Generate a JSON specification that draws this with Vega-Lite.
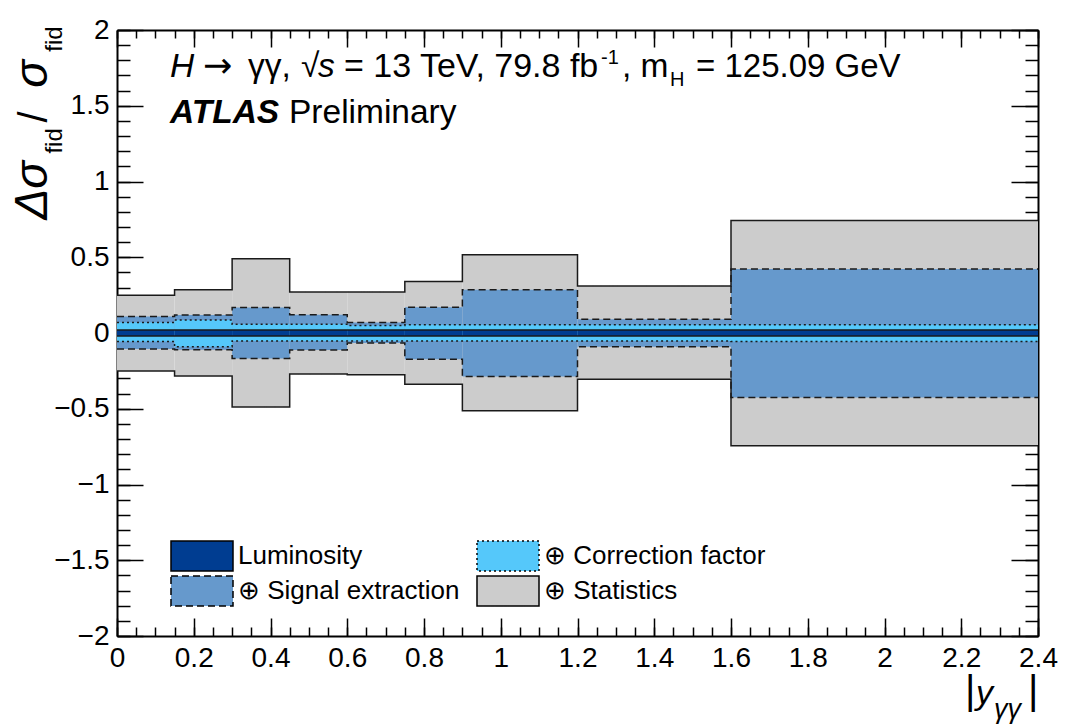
{
  "$schema": "https://vega.github.io/schema/vega-lite/v6.json",
  "width": 921,
  "height": 606,
  "autosize": {"type": "none"},
  "padding": {"left": 117, "top": 30, "right": 28, "bottom": 90},
  "background": "white",
  "config": {
    "view": {"stroke": null},
    "axis": {
      "grid": false,
      "domain": false,
      "tickColor": "black",
      "tickWidth": 1.5,
      "domainColor": "black",
      "domainWidth": 2,
      "labelFont": "Liberation Sans",
      "labelFontSize": 28,
      "labelColor": "black",
      "zindex": 1
    },
    "text": {"font": "Liberation Sans", "color": "black"}
  },
  "datasets": {
    "bands": [
      {"comp": "⊕ Statistics", "x0": 0, "x1": 0.15, "lo": -0.25, "hi": 0.25},
      {"comp": "⊕ Statistics", "x0": 0.15, "x1": 0.3, "lo": -0.283, "hi": 0.285},
      {"comp": "⊕ Statistics", "x0": 0.3, "x1": 0.45, "lo": -0.488, "hi": 0.49},
      {"comp": "⊕ Statistics", "x0": 0.45, "x1": 0.6, "lo": -0.27, "hi": 0.27},
      {"comp": "⊕ Statistics", "x0": 0.6, "x1": 0.75, "lo": -0.275, "hi": 0.27},
      {"comp": "⊕ Statistics", "x0": 0.75, "x1": 0.9, "lo": -0.338, "hi": 0.34},
      {"comp": "⊕ Statistics", "x0": 0.9, "x1": 1.2, "lo": -0.513, "hi": 0.516},
      {"comp": "⊕ Statistics", "x0": 1.2, "x1": 1.6, "lo": -0.305, "hi": 0.311},
      {"comp": "⊕ Statistics", "x0": 1.6, "x1": 2.4, "lo": -0.744, "hi": 0.742},
      {"comp": "⊕ Signal extraction", "x0": 0, "x1": 0.15, "lo": -0.106, "hi": 0.109},
      {"comp": "⊕ Signal extraction", "x0": 0.15, "x1": 0.3, "lo": -0.111, "hi": 0.118},
      {"comp": "⊕ Signal extraction", "x0": 0.3, "x1": 0.45, "lo": -0.168, "hi": 0.168},
      {"comp": "⊕ Signal extraction", "x0": 0.45, "x1": 0.6, "lo": -0.113, "hi": 0.12},
      {"comp": "⊕ Signal extraction", "x0": 0.6, "x1": 0.75, "lo": -0.066, "hi": 0.07},
      {"comp": "⊕ Signal extraction", "x0": 0.75, "x1": 0.9, "lo": -0.173, "hi": 0.17},
      {"comp": "⊕ Signal extraction", "x0": 0.9, "x1": 1.2, "lo": -0.287, "hi": 0.285},
      {"comp": "⊕ Signal extraction", "x0": 1.2, "x1": 1.6, "lo": -0.091, "hi": 0.091},
      {"comp": "⊕ Signal extraction", "x0": 1.6, "x1": 2.4, "lo": -0.425, "hi": 0.423},
      {"comp": "⊕ Correction factor", "x0": 0, "x1": 0.15, "lo": -0.056, "hi": 0.07},
      {"comp": "⊕ Correction factor", "x0": 0.15, "x1": 0.3, "lo": -0.09, "hi": 0.085},
      {"comp": "⊕ Correction factor", "x0": 0.3, "x1": 0.45, "lo": -0.052, "hi": 0.058},
      {"comp": "⊕ Correction factor", "x0": 0.45, "x1": 0.6, "lo": -0.052, "hi": 0.058},
      {"comp": "⊕ Correction factor", "x0": 0.6, "x1": 0.75, "lo": -0.052, "hi": 0.05},
      {"comp": "⊕ Correction factor", "x0": 0.75, "x1": 0.9, "lo": -0.052, "hi": 0.054},
      {"comp": "⊕ Correction factor", "x0": 0.9, "x1": 1.2, "lo": -0.052, "hi": 0.054},
      {"comp": "⊕ Correction factor", "x0": 1.2, "x1": 1.6, "lo": -0.052, "hi": 0.054},
      {"comp": "⊕ Correction factor", "x0": 1.6, "x1": 2.4, "lo": -0.056, "hi": 0.054},
      {"comp": "Luminosity", "x0": 0, "x1": 0.15, "lo": -0.02, "hi": 0.02},
      {"comp": "Luminosity", "x0": 0.15, "x1": 0.3, "lo": -0.02, "hi": 0.02},
      {"comp": "Luminosity", "x0": 0.3, "x1": 0.45, "lo": -0.02, "hi": 0.02},
      {"comp": "Luminosity", "x0": 0.45, "x1": 0.6, "lo": -0.02, "hi": 0.02},
      {"comp": "Luminosity", "x0": 0.6, "x1": 0.75, "lo": -0.02, "hi": 0.02},
      {"comp": "Luminosity", "x0": 0.75, "x1": 0.9, "lo": -0.02, "hi": 0.02},
      {"comp": "Luminosity", "x0": 0.9, "x1": 1.2, "lo": -0.02, "hi": 0.02},
      {"comp": "Luminosity", "x0": 1.2, "x1": 1.6, "lo": -0.02, "hi": 0.02},
      {"comp": "Luminosity", "x0": 1.6, "x1": 2.4, "lo": -0.02, "hi": 0.02}
    ]
  },
  "layer": [
    {
      "data": {"name": "bands"},
      "mark": {"type": "rect", "stroke": "black", "strokeWidth": 0},
      "encoding": {
        "x": {"field": "x0", "type": "quantitative",
              "scale": {"domain": [0, 2.4], "nice": false, "zero": false},
              "axis": {"orient": "bottom", "title": null, "ticks": false, "domain": true, "labelPadding": 8,
                       "labelFlush": false, "labelOverlap": false, "format": "~g",
                       "values": [0, 0.2, 0.4, 0.6, 0.8, 1, 1.2, 1.4, 1.6, 1.8, 2, 2.2, 2.4]}},
        "x2": {"field": "x1"},
        "y": {"field": "lo", "type": "quantitative",
              "scale": {"domain": [-2, 2], "nice": false, "zero": false},
              "axis": {"orient": "left", "title": null, "ticks": false, "domain": true, "labelPadding": 8,
                       "labelFlush": false, "labelOverlap": false, "format": "~g",
                       "values": [-2, -1.5, -1, -0.5, 0, 0.5, 1, 1.5, 2]}},
        "y2": {"field": "hi"},
        "color": {"field": "comp", "type": "nominal",
                  "scale": {"domain": ["Luminosity", "⊕ Signal extraction", "⊕ Correction factor", "⊕ Statistics"],
                            "range": ["#003d91", "#6699cc", "#55c8fa", "#cccccc"]},
                  "legend": {"orient": "none", "legendX": 69, "legendY": 510, "columns": 2, "title": null,
                             "symbolType": "M-2.067,-1H2.067V1H-2.067Z", "symbolSize": 900,
                             "symbolStrokeColor": "black", "symbolStrokeWidth": 1.5,
                             "labelFont": "Liberation Sans", "labelFontSize": 26, "labelColor": "black",
                             "labelOffset": 20, "labelLimit": 400, "rowPadding": -1, "columnPadding": 13}},
        "strokeDash": {"field": "comp", "type": "nominal",
                       "scale": {"domain": ["Luminosity", "⊕ Signal extraction", "⊕ Correction factor", "⊕ Statistics"],
                                 "range": [[1, 0], [7, 4], [2, 3], [1, 0]]},
                       "legend": {"orient": "none", "legendX": 69, "legendY": 510, "columns": 2, "title": null,
                                  "symbolType": "M-2.067,-1H2.067V1H-2.067Z", "symbolSize": 900,
                                  "symbolStrokeColor": "black", "symbolStrokeWidth": 1.5,
                                  "labelFont": "Liberation Sans", "labelFontSize": 26, "labelColor": "black",
                                  "labelOffset": 20, "labelLimit": 400, "rowPadding": -1, "columnPadding": 13}}
      }
    },
    {
      "data": {"name": "bands"},
      "transform": [{"fold": ["x0", "x1"], "as": ["key", "edge"]}],
      "mark": {"type": "line", "stroke": "#1a1a1a", "strokeWidth": 1.5},
      "encoding": {
        "x": {"field": "edge", "type": "quantitative",
              "scale": {"domain": [0, 2.4], "nice": false, "zero": false},
              "axis": {"orient": "bottom", "title": null, "labels": false, "tickSize": -18,
                       "values": [0, 0.2, 0.4, 0.6, 0.8, 1, 1.2, 1.4, 1.6, 1.8, 2, 2.2, 2.4]}},
        "y": {"field": "hi", "type": "quantitative",
              "scale": {"domain": [-2, 2], "nice": false, "zero": false},
              "axis": {"orient": "left", "title": null, "labels": false, "tickSize": -26,
                       "values": [-2, -1.5, -1, -0.5, 0, 0.5, 1, 1.5, 2]}},
        "strokeDash": {"field": "comp", "type": "nominal", "legend": null,
                       "scale": {"domain": ["Luminosity", "⊕ Signal extraction", "⊕ Correction factor", "⊕ Statistics"],
                                 "range": [[1, 0], [7, 4], [2, 3], [1, 0]]}},
        "order": [{"field": "edge", "type": "quantitative"}, {"field": "x0", "type": "quantitative"}]
      }
    },
    {
      "data": {"name": "bands"},
      "transform": [{"fold": ["x0", "x1"], "as": ["key", "edge"]}],
      "mark": {"type": "line", "stroke": "#1a1a1a", "strokeWidth": 1.5},
      "encoding": {
        "x": {"field": "edge", "type": "quantitative",
              "scale": {"domain": [0, 2.4], "nice": false, "zero": false},
              "axis": {"orient": "bottom", "title": null, "labels": false, "tickSize": -9,
                       "values": [0, 0.05, 0.1, 0.15, 0.2, 0.25, 0.3, 0.35, 0.4, 0.45, 0.5, 0.55, 0.6, 0.65, 0.7, 0.75, 0.8, 0.85, 0.9, 0.95, 1, 1.05, 1.1, 1.15, 1.2, 1.25, 1.3, 1.35, 1.4, 1.45, 1.5, 1.55, 1.6, 1.65, 1.7, 1.75, 1.8, 1.85, 1.9, 1.95, 2, 2.05, 2.1, 2.15, 2.2, 2.25, 2.3, 2.35, 2.4]}},
        "y": {"field": "lo", "type": "quantitative",
              "scale": {"domain": [-2, 2], "nice": false, "zero": false},
              "axis": {"orient": "left", "title": null, "labels": false, "tickSize": -13,
                       "values": [-2, -1.9, -1.8, -1.7, -1.6, -1.5, -1.4, -1.3, -1.2, -1.1, -1, -0.9, -0.8, -0.7, -0.6, -0.5, -0.4, -0.3, -0.2, -0.1, 0, 0.1, 0.2, 0.3, 0.4, 0.5, 0.6, 0.7, 0.8, 0.9, 1, 1.1, 1.2, 1.3, 1.4, 1.5, 1.6, 1.7, 1.8, 1.9, 2]}},
        "strokeDash": {"field": "comp", "type": "nominal", "legend": null,
                       "scale": {"domain": ["Luminosity", "⊕ Signal extraction", "⊕ Correction factor", "⊕ Statistics"],
                                 "range": [[1, 0], [7, 4], [2, 3], [1, 0]]}},
        "order": [{"field": "edge", "type": "quantitative"}, {"field": "x0", "type": "quantitative"}]
      }
    },
    {
      "data": {"values": [{"t": "H"}]},
      "mark": {"type": "text", "fontSize": 33.5, "fontStyle": "italic", "align": "left", "baseline": "alphabetic"},
      "encoding": {
        "x": {"datum": 0.1381, "scale": {"domain": [0, 2.4], "nice": false, "zero": false},
              "axis": {"orient": "top", "title": null, "labels": false, "tickSize": -17, "domain": true,
                       "values": [0, 0.2, 0.4, 0.6, 0.8, 1, 1.2, 1.4, 1.6, 1.8, 2, 2.2, 2.4]}},
        "y": {"datum": 1.692, "scale": {"domain": [-2, 2], "nice": false, "zero": false},
              "axis": {"orient": "right", "title": null, "labels": false, "tickSize": -27, "domain": true,
                       "values": [-2, -1.5, -1, -0.5, 0, 0.5, 1, 1.5, 2]}},
        "text": {"field": "t"}
      }
    },
    {
      "data": {"values": [{"t": "→"}]},
      "mark": {"type": "text", "font": "DejaVu Sans", "fontSize": 35, "align": "left", "baseline": "alphabetic"},
      "encoding": {
        "x": {"datum": 0.2241, "scale": {"domain": [0, 2.4], "nice": false, "zero": false},
              "axis": {"orient": "top", "title": null, "labels": false, "tickSize": -8,
                       "values": [0, 0.05, 0.1, 0.15, 0.2, 0.25, 0.3, 0.35, 0.4, 0.45, 0.5, 0.55, 0.6, 0.65, 0.7, 0.75, 0.8, 0.85, 0.9, 0.95, 1, 1.05, 1.1, 1.15, 1.2, 1.25, 1.3, 1.35, 1.4, 1.45, 1.5, 1.55, 1.6, 1.65, 1.7, 1.75, 1.8, 1.85, 1.9, 1.95, 2, 2.05, 2.1, 2.15, 2.2, 2.25, 2.3, 2.35, 2.4]}},
        "y": {"datum": 1.692, "scale": {"domain": [-2, 2], "nice": false, "zero": false},
              "axis": {"orient": "right", "title": null, "labels": false, "tickSize": -13,
                       "values": [-2, -1.9, -1.8, -1.7, -1.6, -1.5, -1.4, -1.3, -1.2, -1.1, -1, -0.9, -0.8, -0.7, -0.6, -0.5, -0.4, -0.3, -0.2, -0.1, 0, 0.1, 0.2, 0.3, 0.4, 0.5, 0.6, 0.7, 0.8, 0.9, 1, 1.1, 1.2, 1.3, 1.4, 1.5, 1.6, 1.7, 1.8, 1.9, 2]}},
        "text": {"field": "t"}
      }
    },
    {
      "data": {"values": [{"t": "γγ,"}]},
      "mark": {"type": "text", "fontSize": 33.5, "align": "left", "baseline": "alphabetic"},
      "encoding": {
        "x": {"datum": 0.3414, "scale": {"domain": [0, 2.4], "nice": false, "zero": false}, "axis": null},
        "y": {"datum": 1.692, "scale": {"domain": [-2, 2], "nice": false, "zero": false}, "axis": null},
        "text": {"field": "t"}
      }
    },
    {
      "data": {"values": [{"t": "√"}]},
      "mark": {"type": "text", "fontSize": 33.5, "align": "left", "baseline": "alphabetic"},
      "encoding": {
        "x": {"datum": 0.4795, "scale": {"domain": [0, 2.4], "nice": false, "zero": false}, "axis": null},
        "y": {"datum": 1.692, "scale": {"domain": [-2, 2], "nice": false, "zero": false}, "axis": null},
        "text": {"field": "t"}
      }
    },
    {
      "data": {"values": [{"t": "s"}]},
      "mark": {"type": "text", "fontSize": 33.5, "fontStyle": "italic", "align": "left", "baseline": "alphabetic"},
      "encoding": {
        "x": {"datum": 0.5237, "scale": {"domain": [0, 2.4], "nice": false, "zero": false}, "axis": null},
        "y": {"datum": 1.692, "scale": {"domain": [-2, 2], "nice": false, "zero": false}, "axis": null},
        "text": {"field": "t"}
      }
    },
    {
      "data": {"values": [{"t": "= 13 TeV, 79.8 fb"}]},
      "mark": {"type": "text", "fontSize": 34, "align": "left", "baseline": "alphabetic"},
      "encoding": {
        "x": {"datum": 0.5915, "scale": {"domain": [0, 2.4], "nice": false, "zero": false}, "axis": null},
        "y": {"datum": 1.692, "scale": {"domain": [-2, 2], "nice": false, "zero": false}, "axis": null},
        "text": {"field": "t"}
      }
    },
    {
      "data": {"values": [{"t": "-1"}]},
      "mark": {"type": "text", "fontSize": 20, "align": "left", "baseline": "alphabetic"},
      "encoding": {
        "x": {"datum": 1.2612, "scale": {"domain": [0, 2.4], "nice": false, "zero": false}, "axis": null},
        "y": {"datum": 1.778, "scale": {"domain": [-2, 2], "nice": false, "zero": false}, "axis": null},
        "text": {"field": "t"}
      }
    },
    {
      "data": {"values": [{"t": ", m"}]},
      "mark": {"type": "text", "fontSize": 33.5, "align": "left", "baseline": "alphabetic"},
      "encoding": {
        "x": {"datum": 1.3159, "scale": {"domain": [0, 2.4], "nice": false, "zero": false}, "axis": null},
        "y": {"datum": 1.692, "scale": {"domain": [-2, 2], "nice": false, "zero": false}, "axis": null},
        "text": {"field": "t"}
      }
    },
    {
      "data": {"values": [{"t": "H"}]},
      "mark": {"type": "text", "fontSize": 20, "align": "left", "baseline": "alphabetic"},
      "encoding": {
        "x": {"datum": 1.441, "scale": {"domain": [0, 2.4], "nice": false, "zero": false}, "axis": null},
        "y": {"datum": 1.633, "scale": {"domain": [-2, 2], "nice": false, "zero": false}, "axis": null},
        "text": {"field": "t"}
      }
    },
    {
      "data": {"values": [{"t": "= 125.09 GeV"}]},
      "mark": {"type": "text", "fontSize": 33, "align": "left", "baseline": "alphabetic"},
      "encoding": {
        "x": {"datum": 1.5088, "scale": {"domain": [0, 2.4], "nice": false, "zero": false}, "axis": null},
        "y": {"datum": 1.692, "scale": {"domain": [-2, 2], "nice": false, "zero": false}, "axis": null},
        "text": {"field": "t"}
      }
    },
    {
      "data": {"values": [{"t": "ATLAS"}]},
      "mark": {"type": "text", "fontSize": 33.5, "fontStyle": "italic", "fontWeight": "bold", "align": "left", "baseline": "alphabetic"},
      "encoding": {
        "x": {"datum": 0.1381, "scale": {"domain": [0, 2.4], "nice": false, "zero": false}, "axis": null},
        "y": {"datum": 1.384, "scale": {"domain": [-2, 2], "nice": false, "zero": false}, "axis": null},
        "text": {"field": "t"}
      }
    },
    {
      "data": {"values": [{"t": "Preliminary"}]},
      "mark": {"type": "text", "fontSize": 33.5, "align": "left", "baseline": "alphabetic"},
      "encoding": {
        "x": {"datum": 0.4482, "scale": {"domain": [0, 2.4], "nice": false, "zero": false}, "axis": null},
        "y": {"datum": 1.384, "scale": {"domain": [-2, 2], "nice": false, "zero": false}, "axis": null},
        "text": {"field": "t"}
      }
    },
    {
      "data": {"values": [{"t": "Δσ"}]},
      "mark": {"type": "text", "fontSize": 46, "fontStyle": "italic", "angle": 270, "align": "left", "baseline": "alphabetic"},
      "encoding": {
        "x": {"datum": -0.1824, "scale": {"domain": [0, 2.4], "nice": false, "zero": false}, "axis": null},
        "y": {"datum": 0.749, "scale": {"domain": [-2, 2], "nice": false, "zero": false}, "axis": null},
        "text": {"field": "t"}
      }
    },
    {
      "data": {"values": [{"t": "fid"}]},
      "mark": {"type": "text", "fontSize": 24, "angle": 270, "align": "left", "baseline": "alphabetic"},
      "encoding": {
        "x": {"datum": -0.1433, "scale": {"domain": [0, 2.4], "nice": false, "zero": false}, "axis": null},
        "y": {"datum": 1.184, "scale": {"domain": [-2, 2], "nice": false, "zero": false}, "axis": null},
        "text": {"field": "t"}
      }
    },
    {
      "data": {"values": [{"t": "/"}]},
      "mark": {"type": "text", "fontSize": 40, "angle": 270, "align": "left", "baseline": "alphabetic"},
      "encoding": {
        "x": {"datum": -0.1824, "scale": {"domain": [0, 2.4], "nice": false, "zero": false}, "axis": null},
        "y": {"datum": 1.389, "scale": {"domain": [-2, 2], "nice": false, "zero": false}, "axis": null},
        "text": {"field": "t"}
      }
    },
    {
      "data": {"values": [{"t": "σ"}]},
      "mark": {"type": "text", "fontSize": 46, "fontStyle": "italic", "angle": 270, "align": "left", "baseline": "alphabetic"},
      "encoding": {
        "x": {"datum": -0.1824, "scale": {"domain": [0, 2.4], "nice": false, "zero": false}, "axis": null},
        "y": {"datum": 1.619, "scale": {"domain": [-2, 2], "nice": false, "zero": false}, "axis": null},
        "text": {"field": "t"}
      }
    },
    {
      "data": {"values": [{"t": "fid"}]},
      "mark": {"type": "text", "fontSize": 24, "angle": 270, "align": "left", "baseline": "alphabetic"},
      "encoding": {
        "x": {"datum": -0.1433, "scale": {"domain": [0, 2.4], "nice": false, "zero": false}, "axis": null},
        "y": {"datum": 1.857, "scale": {"domain": [-2, 2], "nice": false, "zero": false}, "axis": null},
        "text": {"field": "t"}
      }
    },
    {
      "data": {"values": [{"t": "|"}]},
      "mark": {"type": "text", "fontSize": 40, "align": "left", "baseline": "alphabetic"},
      "encoding": {
        "x": {"datum": 2.2098, "scale": {"domain": [0, 2.4], "nice": false, "zero": false}, "axis": null},
        "y": {"datum": -2.45, "scale": {"domain": [-2, 2], "nice": false, "zero": false}, "axis": null},
        "text": {"field": "t"}
      }
    },
    {
      "data": {"values": [{"t": "y"}]},
      "mark": {"type": "text", "fontSize": 34, "fontStyle": "italic", "align": "left", "baseline": "alphabetic"},
      "encoding": {
        "x": {"datum": 2.2384, "scale": {"domain": [0, 2.4], "nice": false, "zero": false}, "axis": null},
        "y": {"datum": -2.45, "scale": {"domain": [-2, 2], "nice": false, "zero": false}, "axis": null},
        "text": {"field": "t"}
      }
    },
    {
      "data": {"values": [{"t": "γγ"}]},
      "mark": {"type": "text", "fontSize": 27, "fontStyle": "italic", "align": "left", "baseline": "alphabetic"},
      "encoding": {
        "x": {"datum": 2.2853, "scale": {"domain": [0, 2.4], "nice": false, "zero": false}, "axis": null},
        "y": {"datum": -2.543, "scale": {"domain": [-2, 2], "nice": false, "zero": false}, "axis": null},
        "text": {"field": "t"}
      }
    },
    {
      "data": {"values": [{"t": "|"}]},
      "mark": {"type": "text", "fontSize": 40, "align": "left", "baseline": "alphabetic"},
      "encoding": {
        "x": {"datum": 2.3739, "scale": {"domain": [0, 2.4], "nice": false, "zero": false}, "axis": null},
        "y": {"datum": -2.45, "scale": {"domain": [-2, 2], "nice": false, "zero": false}, "axis": null},
        "text": {"field": "t"}
      }
    }
  ],
  "resolve": {"axis": {"x": "independent", "y": "independent"}}
}
